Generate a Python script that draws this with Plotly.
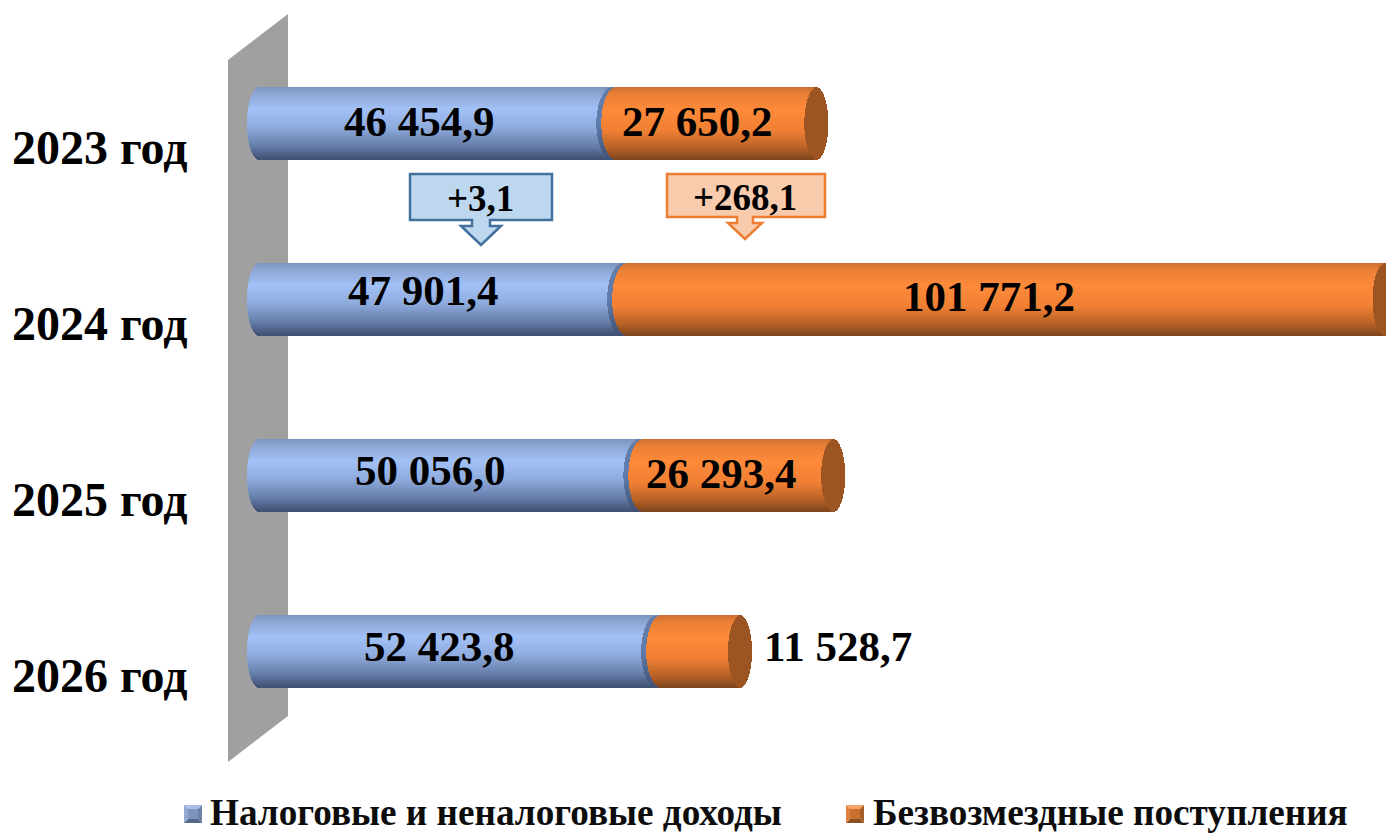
import math
import plotly.graph_objects as go

W, H = 1386, 834

# ---- data ----
years = ["2023 год", "2024 год", "2025 год", "2026 год"]
tax_income = [46454.9, 47901.4, 50056.0, 52423.8]
grants = [27650.2, 101771.2, 26293.4, 11528.7]
tax_labels = ["46 454,9", "47 901,4", "50 056,0", "52 423,8"]
grant_labels = ["27 650,2", "101 771,2", "26 293,4", "11 528,7"]
series_names = ["Налоговые и неналоговые доходы", "Безвозмездные поступления"]
growth_labels = ["+3,1", "+268,1"]

# ---- layout constants (pixels) ----
PX_PER_UNIT = 0.00752    # horizontal scale
X0_PX = 259              # pixel of value 0
ROW0_PX, ROW_STEP = 124, 176
HALF_H = 36              # half bar height, px
CAP_OUTER = 12           # ellipse half-width of the outer ends, px
CAP_INNER_BLUE = 16      # concave end of the blue cylinder, px
CAP_INNER_ORANGE = 15    # rounded start of the orange cylinder, px
JOIN_PX = 4              # shift of the blue end, and width of its dark rim, px

xr = [-X0_PX / PX_PER_UNIT, (W - X0_PX) / PX_PER_UNIT]
yr = [(H - ROW0_PX) / ROW_STEP, -ROW0_PX / ROW_STEP]


def lerp_stops(stops, f):
    for (a, ca), (b, cb) in zip(stops, stops[1:]):
        if f <= b:
            k = (f - a) / (b - a) if b > a else 0
            return "rgb(%d,%d,%d)" % tuple(round(p + (q - p) * k) for p, q in zip(ca, cb))
    return "rgb(%d,%d,%d)" % stops[-1][1]


BLUE = [(0, (126, 148, 190)), (0.08, (140, 165, 212)), (0.30, (163, 193, 247)),
        (0.55, (143, 172, 222)), (0.82, (100, 124, 168)), (1, (62, 78, 112))]
ORANGE = [(0, (205, 112, 50)), (0.08, (232, 126, 54)), (0.30, (255, 138, 58)),
          (0.60, (240, 128, 52)), (0.85, (180, 96, 38)), (1, (125, 68, 28))]
BLUE_RIM = [(0, (100, 125, 170)), (0.5, (96, 124, 170)), (1, (62, 80, 118))]
ORANGE_FACE = [(0, (156, 84, 34)), (1, (156, 84, 34))]

rows = list(range(-HALF_H, HALF_H))


def strips(starts, ends, stops, cap_start, cap_end):
    """One thin bar per pixel row; the ends follow an ellipse, so the bars read as cylinders.
    A negative cap bends that end to the left, a positive one to the right (px)."""
    ys, xs, bases, cols = [], [], [], []
    for i, (s, e0) in enumerate(zip(starts, ends)):
        for r in rows:
            t = (r + 0.5) / HALF_H
            k = math.sqrt(max(0, 1 - t * t)) / PX_PER_UNIT
            b = s + cap_start * k
            e = e0 + cap_end * k
            ys.append(i + (r + 0.5) / ROW_STEP)
            bases.append(b)
            xs.append(e - b)
            cols.append(lerp_stops(stops, (r + HALF_H) / (2 * HALF_H)))
    return dict(y=ys, x=xs, base=bases, marker=dict(color=cols, line=dict(width=0)),
                width=[1.3 / ROW_STEP] * len(ys), orientation="h", hoverinfo="skip", showlegend=False)


join = JOIN_PX / PX_PER_UNIT
totals = [a + b for a, b in zip(tax_income, grants)]
zeros = [0] * 4
blue_end = [t + join for t in tax_income]
orange_start = [t + 2 * join for t in tax_income]

fig = go.Figure()
fig.add_trace(go.Bar(name=series_names[0], **strips(zeros, blue_end, BLUE, -CAP_OUTER, -CAP_INNER_BLUE)))
fig.add_trace(go.Bar(**strips(blue_end, orange_start, BLUE_RIM, -CAP_INNER_BLUE, CAP_OUTER)))
fig.add_trace(go.Bar(**strips(totals, totals, ORANGE_FACE, -CAP_OUTER, CAP_OUTER)))
fig.add_trace(go.Bar(name=series_names[1], **strips(orange_start, totals, ORANGE, -CAP_INNER_ORANGE, -CAP_OUTER)))


def px_x(v):
    return v / W


def px_y(v):
    return 1 - v / H


def poly(points):
    return "M " + " L ".join(f"{px_x(x):.5f},{px_y(y):.5f}" for x, y in points) + " Z"


shapes = [dict(type="path", xref="paper", yref="paper", layer="below",
               path=poly([(228, 60), (288, 14), (288, 716), (228, 762)]),
               fillcolor="#a0a0a0", line=dict(width=0))]

# growth call-outs
callouts = [
    dict(box=(410, 174, 552, 220), cx=481, tip=245, sw=9, hw=20, fill="#bdd7ee", line="#41719c"),
    dict(box=(667, 174, 825, 217), cx=745, tip=239, sw=8, hw=17, fill="#f8cbad", line="#ed7d31"),
]
for c in callouts:
    x0, y0, x1, y1 = c["box"]
    cx, sw, hw, tip = c["cx"], c["sw"], c["hw"], c["tip"]
    shapes.append(dict(type="path", xref="paper", yref="paper",
                       path=poly([(x0, y0), (x1, y0), (x1, y1), (cx + sw, y1), (cx + sw, y1 + 6),
                                  (cx + hw, y1 + 6), (cx, tip), (cx - hw, y1 + 6), (cx - sw, y1 + 6),
                                  (cx - sw, y1), (x0, y1)]),
                       fillcolor=c["fill"], line=dict(color=c["line"], width=2.5)))


# bevelled legend keys
def bevel(x, y, s, cols, mid):
    m = 4
    c = [(x, y), (x + s, y), (x + s, y + s), (x, y + s)]
    i = [(x + m, y + m), (x + s - m, y + m), (x + s - m, y + s - m), (x + m, y + s - m)]
    out = []
    for k in range(4):
        out.append(dict(type="path", xref="paper", yref="paper",
                        path=poly([c[k], c[(k + 1) % 4], i[(k + 1) % 4], i[k]]),
                        fillcolor=cols[k], line=dict(width=0)))
    out.append(dict(type="path", xref="paper", yref="paper", path=poly(i), fillcolor=mid, line=dict(width=0)))
    return out


shapes += bevel(184, 805, 18, ["#a9bfe6", "#6d81a6", "#55678a", "#93a9d2"], "#7f95bf")
shapes += bevel(846, 805, 18, ["#f7a468", "#a85e28", "#8a5024", "#e0803a"], "#c9702e")

SERIF = "Liberation Serif"
annotations = []
label_font = dict(family=SERIF, size=43, color="black", weight=700)
tax_pos = [(420, 122), (423, 290), (431, 470), (440, 646)]
grant_pos = [(697, 122), (989, 296), (722, 473), (838, 646)]
for i in range(4):
    annotations.append(dict(xref="x", yref="paper", x=tax_income[i] / 2, y=px_y(tax_pos[i][1]), yanchor="middle",
                            xshift=tax_pos[i][0] - (X0_PX + tax_income[i] / 2 * PX_PER_UNIT),
                            text=tax_labels[i], showarrow=False, font=label_font))
    annotations.append(dict(xref="x", yref="paper", x=tax_income[i] + grants[i] / 2, y=px_y(grant_pos[i][1]),
                            yanchor="middle",
                            xshift=grant_pos[i][0] - (X0_PX + (tax_income[i] + grants[i] / 2) * PX_PER_UNIT),
                            text=grant_labels[i], showarrow=False, font=label_font))
callout_font = dict(family=SERIF, size=37, color="black", weight=700)
annotations.append(dict(xref="paper", yref="paper", x=px_x(480), y=px_y(199), yanchor="middle",
                        text=growth_labels[0], showarrow=False, font=callout_font))
annotations.append(dict(xref="paper", yref="paper", x=px_x(745), y=px_y(198), yanchor="middle",
                        text=growth_labels[1], showarrow=False, font=callout_font))
legend_font = dict(family=SERIF, size=37.2, color="#0d0d0d", weight=700)
for name, lx in zip(series_names, [208, 871]):
    annotations.append(dict(xref="paper", yref="paper", x=px_x(lx), y=px_y(812), xanchor="left", yanchor="middle",
                            text=name, showarrow=False, font=legend_font))

fig.update_layout(
    width=W, height=H, autosize=False,
    margin=dict(l=0, r=0, t=0, b=0),
    paper_bgcolor="white", plot_bgcolor="rgba(0,0,0,0)",
    barmode="overlay", bargap=0, showlegend=False,
    shapes=shapes, annotations=annotations,
    font=dict(family=SERIF),
    xaxis=dict(range=xr, visible=False, fixedrange=True),
    yaxis=dict(range=yr, tickmode="array", tickvals=[0, 1, 2, 3], ticktext=years,
               ticks="", showgrid=False, zeroline=False, showline=False, fixedrange=True,
               ticklabelposition="inside",
               tickfont=dict(family=SERIF, size=48, color="black", weight=700),
               ticklabelstandoff=9, ticklabelshift=-23),
)
fig.write_html("out.html", config=dict(displayModeBar=False),
               post_script="document.body.style.margin='0';document.documentElement.style.overflow='hidden';")
